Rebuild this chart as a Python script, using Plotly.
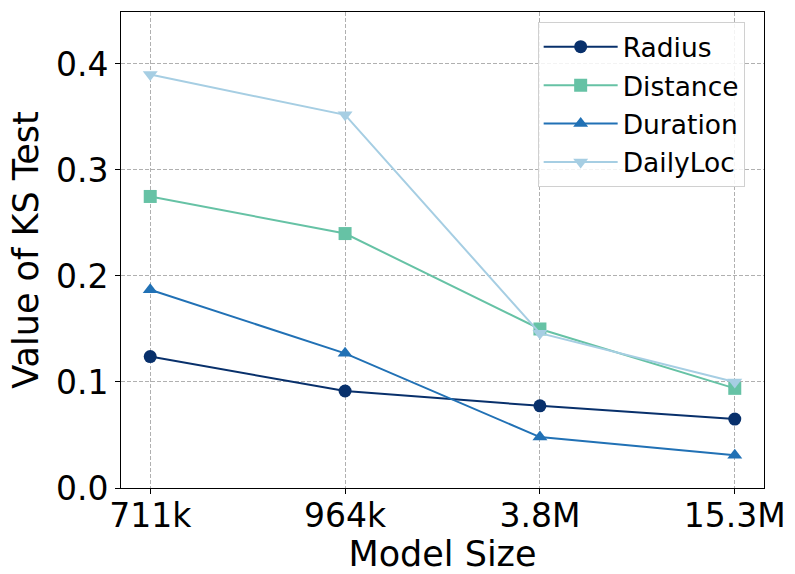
import plotly.graph_objects as go

model_sizes = ["711k", "964k", "3.8M", "15.3M"]
radius = [0.124, 0.0915, 0.0775, 0.065]
distance = [0.275, 0.240, 0.150, 0.094]
duration = [0.187, 0.127, 0.048, 0.031]
daily_loc = [0.390, 0.352, 0.146, 0.100]

series = [
    ("Radius", radius, "#08306b", "circle"),
    ("Distance", distance, "#66c2a5", "square"),
    ("Duration", duration, "#2171b5", "triangle-up"),
    ("DailyLoc", daily_loc, "#a6cee3", "triangle-down"),
]

fig = go.Figure()
for i, (name, vals, color, symbol) in enumerate(series):
    fig.add_trace(go.Scatter(
        x=list(range(len(model_sizes))), y=vals, name=name, mode="lines+markers",
        line=dict(color=color, width=2),
        marker=dict(color=color, symbol=symbol, size=13, line=dict(width=0)),
        legendgroup=f"g{i}",
    ))

font = "DejaVu Sans, sans-serif"
axis_common = dict(
    showline=True, linecolor="black", linewidth=1, mirror=True,
    ticks="outside", ticklen=5, tickcolor="black",
    showgrid=True, gridcolor="#b0b0b0", griddash="4px,2px", gridwidth=1,
    zeroline=False, automargin=False,
    tickfont=dict(size=33, color="black", family=font),
    title_font=dict(size=35, color="black", family=font),
)
fig.update_xaxes(
    **axis_common, range=[-0.15, 3.15], tickmode="array",
    tickvals=list(range(len(model_sizes))), ticktext=model_sizes,
    title_text="Model Size", title_standoff=2, ticklabelstandoff=-7,
)
fig.update_yaxes(
    **axis_common, range=[0, 0.449], tickmode="array",
    tickvals=[0.0, 0.1, 0.2, 0.3, 0.4], ticktext=["0.0", "0.1", "0.2", "0.3", "0.4"],
    title_text="Value of KS Test", title_standoff=6,
)
fig.update_layout(
    width=795, height=574,
    margin=dict(l=121, r=31, t=12, b=86),
    plot_bgcolor="white", paper_bgcolor="white",
    font=dict(family=font, color="black"),
    showlegend=True,
    legend=dict(
        x=0.648, y=0.979, xanchor="left", yanchor="top",
        bgcolor="rgba(255,255,255,0.85)", bordercolor="#d0d0d0", borderwidth=1,
        font=dict(size=26.5, family=font, color="black"),
        tracegroupgap=1, itemwidth=74,
    ),
)
fig.write_html("out.html")
